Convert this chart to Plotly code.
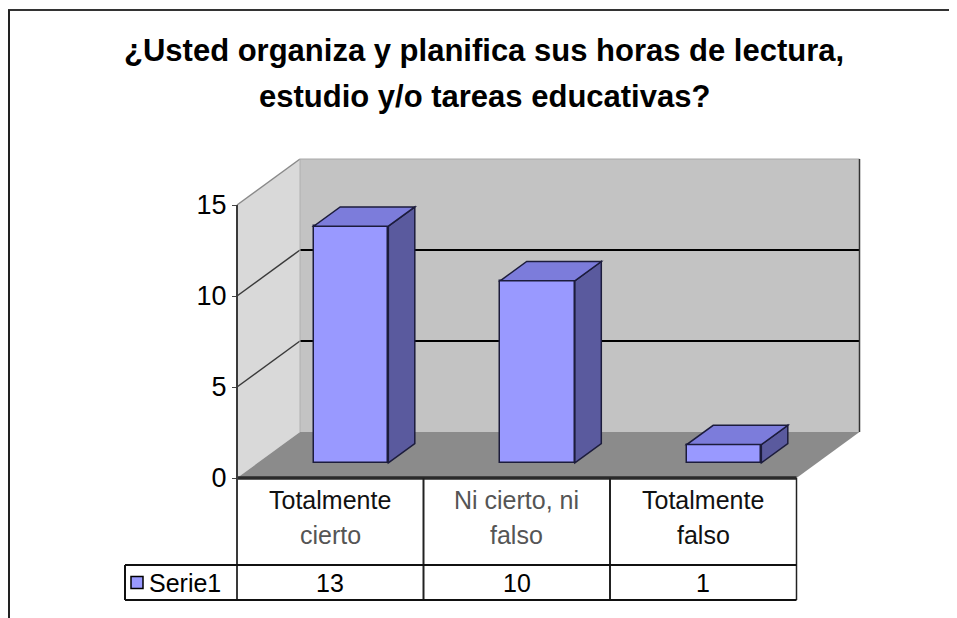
import plotly.graph_objects as go

# ---------------- data ----------------
categories_line1 = ["Totalmente", "Ni cierto, ni", "Totalmente"]
categories_line2 = ["cierto", "falso", "falso"]
values = [13, 10, 1]
series_name = "Serie1"
y_ticks = [0, 5, 10, 15]
title_line1 = "¿Usted organiza y planifica sus horas de lectura,"
title_line2 = "estudio y/o tareas educativas?"

# ---------------- geometry (layout) ----------------
OFF = 8                      # page body margin of the html page
W, H = 957 - OFF, 618 - OFF  # figure size
X_AXIS_PX = 237 - OFF        # pixel column of front-left corner of the plot
Y_ZERO_PX = 478 - OFF        # pixel row of value 0 on the front edge
CAT_PX = 186.5               # pixels per category
UNIT_PX = 18.2               # pixels per value unit

x_lo = -0.5 - X_AXIS_PX / CAT_PX
x_hi = -0.5 + (W - X_AXIS_PX) / CAT_PX
y_lo = -(H - Y_ZERO_PX) / UNIT_PX
y_hi = Y_ZERO_PX / UNIT_PX

DX = 63 / CAT_PX     # depth offset, x units
DY = 46 / UNIT_PX    # depth offset, y units
n = len(values)
XL, XR = -0.5, n - 0.5
YMAX = max(y_ticks)

BAR_HALF = 0.2
D1, D2 = 0.33, 0.75  # bar depth fractions (front, back)

HDR_BOTTOM = -87 / UNIT_PX
ROW_BOTTOM = -122 / UNIT_PX
LEG_LEFT = XL - 112 / CAT_PX

C_SIDE_WALL = "#d9d9d9"
C_BACK_WALL = "#c3c3c3"
C_FLOOR = "#8b8b8b"
C_FRONT = "#9999ff"
C_BSIDE = "#5a5a9e"
C_BTOP = "#7c7cdb"
C_EDGE = "#1c1c3c"


def path(pts):
    return "M " + " L ".join(f"{x},{y}" for x, y in pts) + " Z"


shapes = []

# side wall
shapes.append(dict(type="path", xref="x", yref="y", layer="below",
                   path=path([(XL, 0), (XL + DX, DY), (XL + DX, YMAX + DY), (XL, YMAX)]),
                   fillcolor=C_SIDE_WALL, line=dict(width=0)))
# back wall
shapes.append(dict(type="path", xref="x", yref="y", layer="below",
                   path=path([(XL + DX, DY), (XR + DX, DY), (XR + DX, YMAX + DY), (XL + DX, YMAX + DY)]),
                   fillcolor=C_BACK_WALL, line=dict(width=0)))
# floor
shapes.append(dict(type="path", xref="x", yref="y", layer="below",
                   path=path([(XL, 0), (XR, 0), (XR + DX, DY), (XL + DX, DY)]),
                   fillcolor=C_FLOOR, line=dict(width=0)))

# gridlines
for v in y_ticks[1:]:
    shapes.append(dict(type="line", xref="x", yref="y", layer="below",
                       x0=XL, y0=v, x1=XL + DX, y1=v + DY,
                       line=dict(color="#3a3a3a" if v < YMAX else "#8a8a8a", width=1.5)))
    if v < YMAX:
        shapes.append(dict(type="line", xref="x", yref="y", layer="below",
                           x0=XL + DX, y0=v + DY, x1=XR + DX, y1=v + DY,
                           line=dict(color="#000000", width=2)))
# back-wall top edge and right edge
shapes.append(dict(type="line", xref="x", yref="y", layer="below",
                   x0=XL + DX, y0=YMAX + DY, x1=XR + DX, y1=YMAX + DY,
                   line=dict(color="#a8a8a8", width=1)))
shapes.append(dict(type="line", xref="x", yref="y", layer="below",
                   x0=XR + DX, y0=DY, x1=XR + DX, y1=YMAX + DY,
                   line=dict(color="#333333", width=1.5)))
# back-left vertical edge (faint)
shapes.append(dict(type="line", xref="x", yref="y", layer="below",
                   x0=XL + DX, y0=DY, x1=XL + DX, y1=YMAX + DY,
                   line=dict(color="#b0b0b0", width=1)))
# front floor edge
shapes.append(dict(type="line", xref="x", yref="y", layer="below",
                   x0=XL, y0=0, x1=XR, y1=0,
                   line=dict(color="#2a2a2a", width=3.5)))
# y axis line (continues as table left border)
shapes.append(dict(type="line", xref="x", yref="y", layer="above",
                   x0=XL, y0=YMAX, x1=XL, y1=ROW_BOTTOM,
                   line=dict(color="#3a3a3a", width=2)))

# bar side and top faces
for i, v in enumerate(values):
    xl1 = i - BAR_HALF + D1 * DX
    xr1 = i + BAR_HALF + D1 * DX
    xl2 = i - BAR_HALF + D2 * DX
    xr2 = i + BAR_HALF + D2 * DX
    b1 = D1 * DY
    b2 = D2 * DY
    shapes.append(dict(type="path", xref="x", yref="y", layer="above",
                       path=path([(xr1, b1), (xr2, b2), (xr2, v + b2), (xr1, v + b1)]),
                       fillcolor=C_BSIDE, line=dict(color=C_EDGE, width=1.5)))
    shapes.append(dict(type="path", xref="x", yref="y", layer="above",
                       path=path([(xl1, v + b1), (xr1, v + b1), (xr2, v + b2), (xl2, v + b2)]),
                       fillcolor=C_BTOP, line=dict(color=C_EDGE, width=1.5)))

# data table lines
for k in range(1, n):
    shapes.append(dict(type="line", xref="x", yref="y", layer="above",
                       x0=XL + k, y0=0, x1=XL + k, y1=ROW_BOTTOM,
                       line=dict(color="#222222", width=2)))
shapes.append(dict(type="line", xref="x", yref="y", layer="above",
                   x0=XR, y0=0, x1=XR, y1=ROW_BOTTOM,
                   line=dict(color="#222222", width=1.5)))
for yy in (HDR_BOTTOM, ROW_BOTTOM):
    shapes.append(dict(type="line", xref="x", yref="y", layer="above",
                       x0=LEG_LEFT, y0=yy, x1=XR, y1=yy,
                       line=dict(color="#111111", width=2)))
shapes.append(dict(type="line", xref="x", yref="y", layer="above",
                   x0=LEG_LEFT, y0=HDR_BOTTOM, x1=LEG_LEFT, y1=ROW_BOTTOM,
                   line=dict(color="#111111", width=2)))

# outer frame (top and left)
shapes.append(dict(type="line", xref="paper", yref="paper",
                   x0=0, y0=1 - (10 - OFF) / H, x1=1, y1=1 - (10 - OFF) / H,
                   line=dict(color="#333333", width=2)))
shapes.append(dict(type="line", xref="paper", yref="paper",
                   x0=1 / W, y0=1 - (10 - OFF) / H, x1=1 / W, y1=0,
                   line=dict(color="#222222", width=2)))

FONT = "Liberation Sans, Arial, sans-serif"
TITLE_X = (484 - OFF) / W
annotations = []
annotations.append(dict(xref="paper", yref="paper", x=TITLE_X, y=1 - (50 - OFF) / H,
                        text=f"<b>{title_line1}</b>", showarrow=False,
                        font=dict(family=FONT, size=31, color="#000"),
                        xanchor="center", yanchor="middle"))
annotations.append(dict(xref="paper", yref="paper", x=TITLE_X, y=1 - (97 - OFF) / H,
                        text=f"<b>{title_line2}</b>", showarrow=False,
                        font=dict(family=FONT, size=31, color="#000"),
                        xanchor="center", yanchor="middle"))

TFS = 25
line1_colors = ["#111111", "#555555", "#111111"]
line2_colors = ["#555555", "#555555", "#111111"]
for i in range(n):
    annotations.append(dict(xref="x", yref="y", x=i, y=-22 / UNIT_PX,
                            text=categories_line1[i], showarrow=False,
                            font=dict(family=FONT, size=TFS, color=line1_colors[i]),
                            xanchor="center", yanchor="middle"))
    annotations.append(dict(xref="x", yref="y", x=i, y=-57 / UNIT_PX,
                            text=categories_line2[i], showarrow=False,
                            font=dict(family=FONT, size=TFS, color=line2_colors[i]),
                            xanchor="center", yanchor="middle"))
    annotations.append(dict(xref="x", yref="y", x=i, y=(HDR_BOTTOM + ROW_BOTTOM) / 2,
                            text=str(values[i]), showarrow=False,
                            font=dict(family=FONT, size=TFS, color="#000"),
                            xanchor="center", yanchor="middle"))
annotations.append(dict(xref="x", yref="y", x=LEG_LEFT + 22 / CAT_PX, y=(HDR_BOTTOM + ROW_BOTTOM) / 2,
                        text=series_name, showarrow=False,
                        font=dict(family=FONT, size=TFS, color="#000"),
                        xanchor="left", yanchor="middle"))

fig = go.Figure()
fig.add_trace(go.Bar(
    x=[i + D1 * DX for i in range(n)],
    y=values,
    base=[D1 * DY] * n,
    width=2 * BAR_HALF,
    marker=dict(color=C_FRONT, line=dict(color=C_EDGE, width=1.5)),
    name=series_name, showlegend=False, hoverinfo="skip",
))
# legend key inside data table
fig.add_trace(go.Scatter(
    x=[LEG_LEFT + 12 / CAT_PX], y=[(HDR_BOTTOM + ROW_BOTTOM) / 2],
    mode="markers",
    marker=dict(symbol="square", size=12, color=C_FRONT, line=dict(color="#000", width=1.5)),
    showlegend=False, hoverinfo="skip",
))

fig.update_layout(
    width=W, height=H,
    margin=dict(l=0, r=0, t=0, b=0),
    paper_bgcolor="white", plot_bgcolor="white",
    showlegend=False,
    shapes=shapes,
    annotations=annotations,
    xaxis=dict(range=[x_lo, x_hi], visible=False, fixedrange=True),
    yaxis=dict(range=[y_lo, y_hi], anchor="free", position=X_AXIS_PX / W,
               tickvals=y_ticks, ticks="outside", ticklen=5, tickcolor="#444",
               tickfont=dict(family=FONT, size=27, color="#000"),
               showgrid=False, zeroline=False, showline=False, fixedrange=True),
    bargap=0,
)

fig.write_html("out.html")
